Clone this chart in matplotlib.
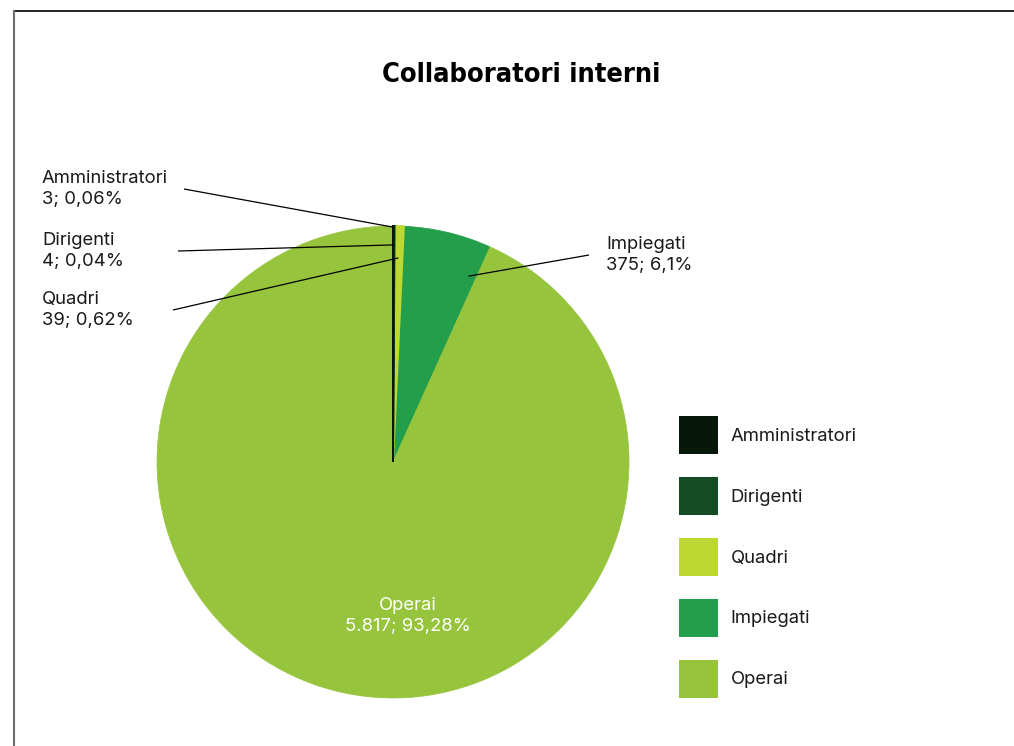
import matplotlib
matplotlib.use("Agg")
import matplotlib.pyplot as plt
from matplotlib.patches import Patch
from matplotlib.lines import Line2D
import numpy as np

# ---- data ----
categories = ["Amministratori", "Dirigenti", "Quadri", "Impiegati", "Operai"]
values = [3, 4, 39, 375, 5817]
value_labels = ["3", "4", "39", "375", "5.817"]
pct_labels = ["0,06%", "0,04%", "0,62%", "6,1%", "93,28%"]
colors = ["#07180b", "#134b22", "#bdd832", "#239e4a", "#96c43c"]
title = "Collaboratori interni"

W, H = 1014, 746
fig = plt.figure(figsize=(W / 100, H / 100), dpi=100)
ax = fig.add_axes([0, 0, 1, 1])

def py(y):
    return H - y

cx, cy, R = 393, py(462), 236
wedges, _ = ax.pie(values, colors=colors, startangle=90, counterclock=False,
                   center=(cx, cy), radius=R)
for k, (w, c) in enumerate(zip(wedges, colors)):
    w.set_edgecolor(c)
    if k < 3:
        w.set_linewidth(1.4)
        w.set_zorder(3 - k * 0.1)
    else:
        w.set_linewidth(0.5)
        w.set_zorder(2)
ax.set_xlim(0, W)
ax.set_ylim(0, H)
ax.set_aspect("equal")
ax.axis("off")

body_font = ["Inter", "DejaVu Sans"]
txt_col = "#1a1a1a"
fs = 13.3

def wedge_point(i, frac, rfrac):
    w = wedges[i]
    ang = np.deg2rad(w.theta2 - (w.theta2 - w.theta1) * frac)
    return cx + R * rfrac * np.cos(ang), cy + R * rfrac * np.sin(ang)

# outside labels: (text x, text center y, line start x, point frac, radius frac)
label_layout = {
    0: (42, 189, 184, 0.5, 0.995),
    1: (42, 251, 178, 0.5, 0.92),
    2: (42, 310, 173, 0.5, 0.865),
    3: (606, 255, 589, 0.9, 0.85),
}
for i, (tx, ty, lx, frac, rf) in label_layout.items():
    ax.text(tx, py(ty), f"{categories[i]}\n{value_labels[i]}; {pct_labels[i]}",
            ha="left", va="center", fontsize=fs, color=txt_col, family=body_font,
            linespacing=1.25, zorder=5)
    x2, y2 = wedge_point(i, frac, rf)
    ax.plot([lx, x2], [py(ty), y2], color="black", lw=0.9,
            solid_capstyle="butt", zorder=6)

# inside label for Operai
ax.text(408, py(616), f"{categories[4]}\n{value_labels[4]}; {pct_labels[4]}",
        ha="center", va="center", fontsize=fs, color="white", family=body_font,
        linespacing=1.25, zorder=5)

# title
fig.text(521 / W, 1 - 75 / H, title, ha="center", va="center", fontsize=19.5,
         fontweight="bold", fontstretch="condensed", family=["DejaVu Sans"],
         color="black")

# legend
handles = [Patch(facecolor=c, edgecolor="none") for c in colors]
leg = fig.legend(handles, categories, loc="upper left",
                 bbox_to_anchor=(679 / W, 1 - 416 / H), frameon=False,
                 borderpad=0, borderaxespad=0,
                 handlelength=2.1, handleheight=2.82, handletextpad=0.7,
                 labelspacing=1.22, prop=dict(family=body_font, size=fs))
for t in leg.get_texts():
    t.set_color(txt_col)

# frame
fig.add_artist(Line2D([14 / W, 1], [1 - 11 / H, 1 - 11 / H], color="black", lw=1.2,
                      transform=fig.transFigure))
fig.add_artist(Line2D([14 / W, 14 / W], [1 - 11 / H, 0], color="#6e6e6e", lw=1.5,
                      transform=fig.transFigure))

fig.savefig("out.png", dpi=100)
